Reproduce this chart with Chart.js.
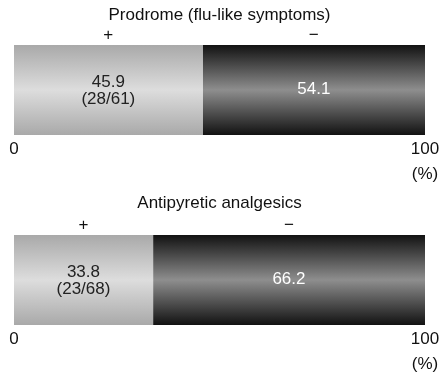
<!DOCTYPE html>
<html>
<head>
<meta charset="utf-8">
<script src="https://cdn.jsdelivr.net/npm/chart.js@4/dist/chart.umd.min.js"></script>
<style>
  html, body { margin: 0; padding: 0; background: #fff; overflow: hidden; }
  .box { position: relative; width: 443px; }
</style>
</head>
<body>
<div class="box" style="height:189px"><canvas id="c1"></canvas></div>
<div class="box" style="height:190px"><canvas id="c2"></canvas></div>
<script>
// Chart data
const titles = ['Prodrome (flu-like symptoms)', 'Antipyretic analgesics'];
const groupLabels = ['+', '\u2212'];
const positiveValues = [45.9, 33.8];
const negativeValues = [54.1, 66.2];
const positiveCounts = ['(28/61)', '(23/68)'];
const tickLabels = { 0: '0', 100: ['100', '(%)'] };

const FONT = "'Liberation Sans Narrow', 'Liberation Sans', sans-serif";

// vertical gradient with a bright band in the middle
function barGradient(chart, edge, mid) {
    const area = chart.chartArea;
    if (!area) return edge;
    const g = chart.ctx.createLinearGradient(0, area.top, 0, area.bottom);
    g.addColorStop(0, edge);
    g.addColorStop(0.5, mid);
    g.addColorStop(1, edge);
    return g;
}

// labels on and above each bar segment
const segmentLabels = {
    id: 'segmentLabels',
    afterDatasetsDraw(chart, args, opts) {
        const ctx = chart.ctx;
        ctx.save();
        ctx.textAlign = 'center';
        ctx.textBaseline = 'middle';
        ctx.font = '17px ' + FONT;
        chart.data.datasets.forEach((ds, i) => {
            const bar = chart.getDatasetMeta(i).data[0];
            const cx = (bar.x + bar.base) / 2;
            const cy = bar.y;
            ctx.fillStyle = '#111';
            ctx.fillText(groupLabels[i], cx, chart.chartArea.top - 10);
            if (i === 0) {
                ctx.fillStyle = '#222';
                ctx.fillText(ds.data[0].toFixed(1), cx, cy - 8);
                ctx.fillText(opts.count, cx, cy + 9);
            } else {
                ctx.fillStyle = '#fff';
                ctx.fillText(ds.data[0].toFixed(1), cx, cy - 1);
            }
        });
        ctx.restore();
    }
};

function makeChart(id, idx, titlePadTop, areaTop) {
    return new Chart(document.getElementById(id), {
        type: 'bar',
        data: {
            labels: [''],
            datasets: [
                {
                    data: [positiveValues[idx]],
                    backgroundColor: (c) => barGradient(c.chart, '#a9a9a9', '#dddddd'),
                    borderWidth: 0
                },
                {
                    data: [negativeValues[idx]],
                    backgroundColor: (c) => barGradient(c.chart, '#121212', '#8e8e8e'),
                    borderWidth: 0
                }
            ]
        },
        options: {
            indexAxis: 'y',
            responsive: true,
            maintainAspectRatio: false,
            animation: false,
            layout: { padding: { left: 14, right: 18, bottom: 0, top: 0 } },
            datasets: { bar: { categoryPercentage: 1, barPercentage: 1 } },
            scales: {
                x: {
                    stacked: true,
                    min: 0,
                    max: 100,
                    grid: { display: false, drawTicks: false },
                    border: { display: false },
                    afterBuildTicks: (axis) => {
                        axis.ticks = [{ value: 0 }, { value: 100 }];
                    },
                    ticks: {
                        padding: 2,
                        color: '#111',
                        font: { size: 17, family: FONT, lineHeight: '25px' },
                        maxRotation: 0,
                        callback: (v) => tickLabels[v]
                    }
                },
                y: { stacked: true, display: false }
            },
            plugins: {
                legend: { display: false },
                tooltip: { enabled: false },
                title: {
                    display: true,
                    text: titles[idx],
                    color: '#111',
                    font: { size: 17, weight: 'normal', family: FONT, lineHeight: 1.2 },
                    padding: { top: titlePadTop, bottom: areaTop - titlePadTop - 20.4 }
                },
                segmentLabels: { count: positiveCounts[idx] }
            }
        },
        plugins: [segmentLabels]
    });
}

makeChart('c1', 0, 5, 45);
makeChart('c2', 1, 4, 46);
</script>
</body>
</html>
